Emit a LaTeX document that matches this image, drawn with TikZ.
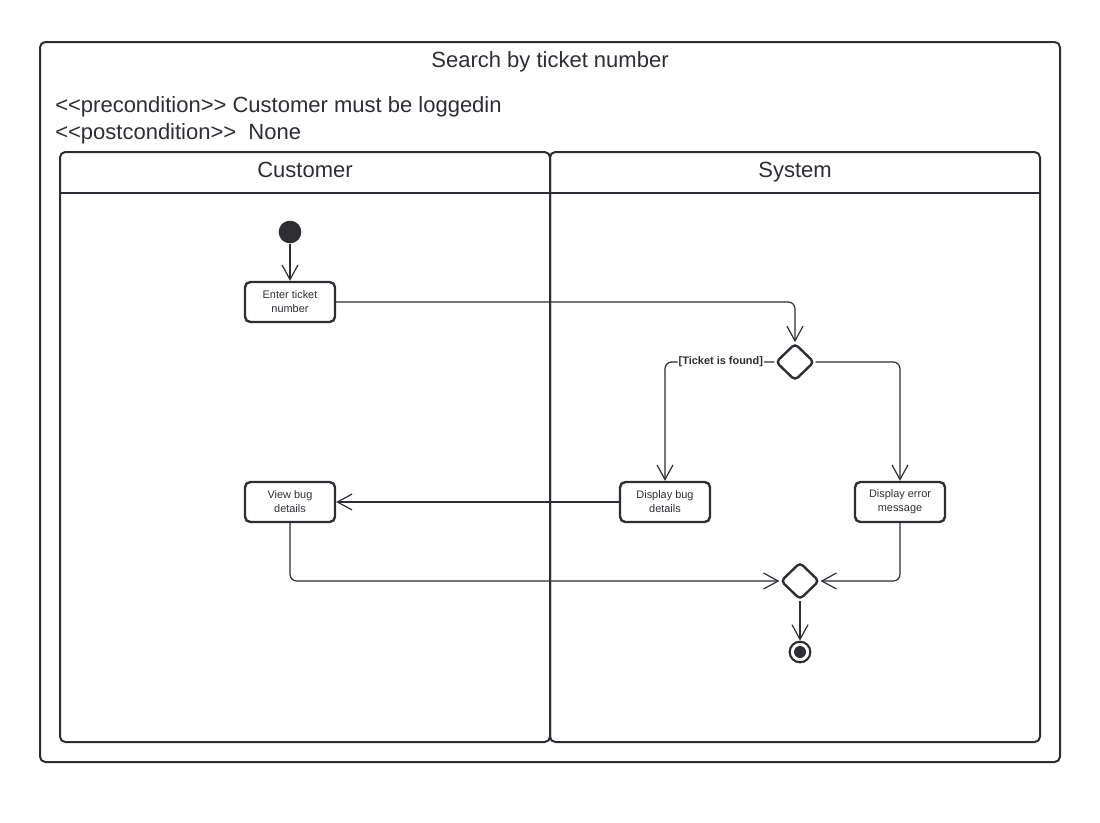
\documentclass[tikz,border=0pt]{standalone}
\usepackage{fontspec}
\setmainfont{Liberation Sans}[Ligatures=TeXOff]
\usepackage{tikz}
\usetikzlibrary{shapes.geometric}
\usetikzlibrary{arrows.meta}
\usetikzlibrary{positioning}
\usetikzlibrary{calc}
\definecolor{umlline}{RGB}{44,46,51}

\begin{document}
\begin{tikzpicture}[x=0.75pt,y=0.75pt,yscale=-1,xscale=1,
  every node/.style={text=umlline},
  frame/.style={draw=umlline,line width=1.5pt,rounded corners=4},
  actbox/.style={draw=umlline,line width=1.8pt,rounded corners=4,minimum width=67.5pt,minimum height=30pt,align=center,font=\fontsize{8.2}{10.5}\selectfont,inner sep=1pt},
  choice/.style={diamond,draw=umlline,line width=1.8pt,rounded corners=3,minimum width=29pt,minimum height=28pt,inner sep=0pt},
  flow/.style={draw=umlline,line width=0.9pt,rounded corners=5,-{Straight Barb[length=11pt,width=12pt,line width=0.9pt]}},
  guard/.style={fill=white,inner sep=0.8pt,font=\bfseries\fontsize{8.2}{10}\selectfont},
  heading/.style={anchor=base,inner sep=0pt,font=\fontsize{16.5}{20}\selectfont}]
\useasboundingbox (0,0) rectangle (1100,822);
%Outer frame
\draw[frame] (40,42) rectangle (1060,762);
% Text Node
\node[heading] (title) at (550,67) {Search by ticket number};
% Text Node
\node[heading,anchor=base west] (pre) at (55,112) {<<precondition>> Customer must be loggedin};
% Text Node
\node[heading,anchor=base west] (post) at (55,139) {<<postcondition>>\ \ None};
%Lanes
\draw[frame] (60,152) rectangle (550,742);
\draw[frame] (550,152) rectangle (1040,742);
\draw[umlline,line width=1.5pt] (60,193) -- (1040,193);
% Text Node
\node[heading] (custlane) at (305,177.5) {Customer};
% Text Node
\node[heading] (syslane) at (795,177.5) {System};

%Start and end
\node[circle,fill=umlline,minimum size=17pt,inner sep=0pt] (start) at (290,232) {};
\node[circle,draw=umlline,line width=1.6pt,minimum size=15.5pt,inner sep=0pt] (end) at (800,652) {};
\node[circle,fill=umlline,minimum size=9pt,inner sep=0pt] (endin) at (end) {};

%Actions
\node[actbox] (enter) at (290,302) {Enter ticket\\number};
\node[actbox] (viewbug) at (290,502) {View bug\\details};
\node[actbox] (showbug) at (665,502) {Display bug\\details};
\node[actbox] (showerr) at (900,502) {Display error\\message};

%Decision and merge
\node[choice] (check) at (795,362) {};
\node[choice] (merge) at (800,581) {};

%Flows
\draw[flow] (start) -- (enter);
\draw[flow] (enter.east) -| (check.north);
\draw[flow] (check.west) -| (showbug.north) node[guard,pos=0.245] (found) {[Ticket is found]};
\draw[flow] (check.east) -| (showerr.north);
\draw[flow] (showbug.west) -- (viewbug.east);
\draw[flow] (viewbug.south) |- (merge.west);
\draw[flow] (showerr.south) |- (merge.east);
\draw[flow] (merge.south) -- (end);
\end{tikzpicture}
\end{document}
